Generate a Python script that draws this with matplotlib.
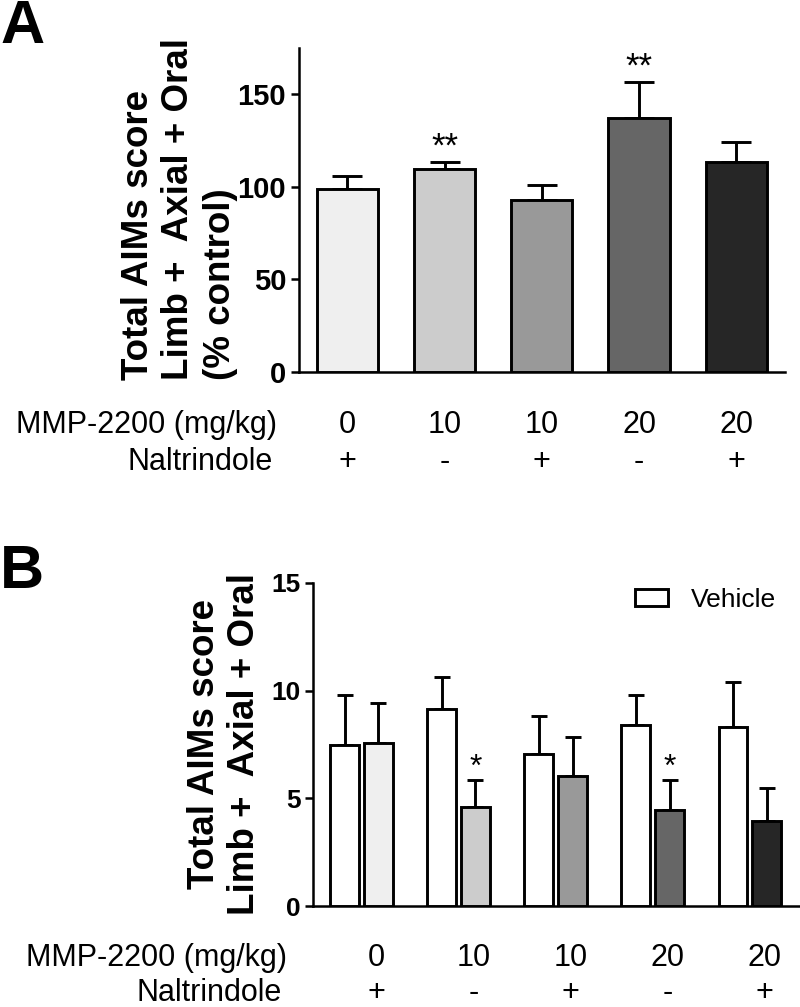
import matplotlib
matplotlib.use('Agg')
import matplotlib.pyplot as plt
import numpy as np
from matplotlib import font_manager

# ---------------- data ----------------
doses = ['0', '10', '10', '20', '20']
naltrindole = ['+', '-', '+', '-', '+']

a_means = [99.0, 109.8, 92.8, 137.2, 113.6]
a_sem = [6.6, 3.6, 8.0, 19.5, 10.6]
a_sig = ['', '**', '', '**', '']
a_yticks = [0, 50, 100, 150]

b_vehicle = [7.47, 9.13, 7.07, 8.40, 8.32]
b_vehicle_sem = [2.32, 1.51, 1.75, 1.39, 2.06]
b_drug = [7.58, 4.61, 6.06, 4.45, 3.94]
b_drug_sem = [1.87, 1.24, 1.80, 1.40, 1.52]
b_sig = ['', '*', '', '*', '']
b_yticks = [0, 5, 10, 15]

bar_colors = ['#efefef', '#cccccc', '#999999', '#666666', '#262626']

ylabel_lines_a = ['Total AIMs score', 'Limb +  Axial + Oral', '(% control)']
ylabel_lines_b = ['Total AIMs score', 'Limb +  Axial + Oral']

# ---------------- figure ----------------
W, H = 800, 1007
plt.rcParams['font.family'] = ['Liberation Sans', 'DejaVu Sans']
names = {f.name for f in font_manager.fontManager.ttflist}
NARROW = ['Liberation Sans Narrow', 'Liberation Sans'] if 'Liberation Sans Narrow' in names \
    else ['Liberation Sans']
fig = plt.figure(figsize=(W / 100, H / 100), dpi=100)


def fx(px):
    return px / W


def fy(py):
    return 1 - py / H


LW = 2.1
LAB = 22

# ---------- Panel A ----------
axA = fig.add_axes([fx(298.7), fy(372), fx(785) - fx(298.7), fy(48) - fy(372)])
x = np.arange(len(a_means))
axA.bar(x, a_means, width=0.63, color=bar_colors, edgecolor='black', linewidth=LW, zorder=3)
axA.errorbar(x, a_means, yerr=[np.zeros(len(a_sem)), a_sem], fmt='none', ecolor='black',
             elinewidth=LW, capsize=10.5, capthick=LW, zorder=2)
for i, s in enumerate(a_sig):
    if s:
        axA.text(x[i], a_means[i] + a_sem[i] + 3, s, ha='center', va='baseline',
                 fontsize=25, zorder=4)
axA.set_xlim(-0.5, 4.5)
axA.set_ylim(0, 175)
axA.set_yticks(a_yticks)
axA.set_xticks([])
for sp in ['top', 'right']:
    axA.spines[sp].set_visible(False)
for sp in ['left', 'bottom']:
    axA.spines[sp].set_linewidth(1.8)
axA.tick_params(axis='y', length=6, width=1.8, pad=3)
axA.set_yticklabels([str(t) for t in a_yticks], fontsize=21, fontweight='bold', family=NARROW)

tA = axA.get_xaxis_transform()
for i in range(len(doses)):
    axA.text(x[i], -0.164, doses[i], transform=tA, ha='center', va='center', fontsize=LAB)
    axA.text(x[i], -0.278, naltrindole[i], transform=tA, ha='center', va='center', fontsize=LAB)
fig.text(fx(277), fy(425), 'MMP-2200 (mg/kg)', ha='right', va='center', fontsize=LAB)
fig.text(fx(273), fy(462), 'Naltrindole', ha='right', va='center', fontsize=LAB)

for xc, line in zip([139, 178, 220], ylabel_lines_a):
    fig.text(fx(xc), fy(380), line, rotation=90, rotation_mode='anchor', ha='left',
             va='center', fontsize=26.5, fontweight='bold')

fig.text(fx(0), fy(43), 'A', ha='left', va='baseline', fontsize=44, fontweight='bold')

# ---------- Panel B ----------
axB = fig.add_axes([fx(313), fy(906), 1 - fx(313), fy(583) - fy(906)])
xb = np.arange(len(b_vehicle))
bw = 0.29
off = 0.175
vb = axB.bar(xb - off, b_vehicle, width=bw, color='white', edgecolor='black', linewidth=LW,
             zorder=3, label='Vehicle')
axB.bar(xb + off, b_drug, width=bw, color=bar_colors, edgecolor='black', linewidth=LW, zorder=3)
axB.errorbar(xb - off, b_vehicle, yerr=[np.zeros(5), b_vehicle_sem], fmt='none', ecolor='black',
             elinewidth=LW, capsize=5.5, capthick=LW, zorder=2)
axB.errorbar(xb + off, b_drug, yerr=[np.zeros(5), b_drug_sem], fmt='none', ecolor='black',
             elinewidth=LW, capsize=5.5, capthick=LW, zorder=2)
for i, s in enumerate(b_sig):
    if s:
        axB.text(xb[i] + off, b_drug[i] + b_drug_sem[i] + 0.2, s, ha='center', va='baseline',
                 fontsize=23, zorder=4)
axB.set_xlim(-0.5, 4.52)
axB.set_ylim(0, 15)
axB.set_yticks(b_yticks)
axB.set_xticks([])
for sp in ['top', 'right']:
    axB.spines[sp].set_visible(False)
for sp in ['left', 'bottom']:
    axB.spines[sp].set_linewidth(1.8)
axB.tick_params(axis='y', length=6, width=1.8, pad=3)
axB.set_yticklabels([str(t) for t in b_yticks], fontsize=19, fontweight='bold', family=NARROW)

tB = axB.get_xaxis_transform()
for i in range(len(doses)):
    axB.text(xb[i] + 0.155, -0.161, doses[i], transform=tB, ha='center', va='center', fontsize=LAB)
    axB.text(xb[i] + 0.155, -0.269, naltrindole[i], transform=tB, ha='center', va='center',
             fontsize=LAB)
fig.text(fx(287), fy(958), 'MMP-2200 (mg/kg)', ha='right', va='center', fontsize=LAB)
fig.text(fx(282), fy(993), 'Naltrindole', ha='right', va='center', fontsize=LAB)

for xc, line in zip([204, 244], ylabel_lines_b):
    fig.text(fx(xc), fy(744), line, rotation=90, rotation_mode='anchor', ha='center',
             va='center', fontsize=26.5, fontweight='bold')

fig.text(fx(0), fy(588), 'B', ha='left', va='baseline', fontsize=44, fontweight='bold')

leg = axB.legend(handles=[vb], labels=['Vehicle'], loc='center left',
                 bbox_to_anchor=(fx(635), fy(600)), bbox_transform=fig.transFigure,
                 frameon=False, fontsize=19, handlelength=1.25, handleheight=0.6,
                 handletextpad=0.85, borderpad=0, borderaxespad=0)

fig.savefig('out.png', dpi=100)
